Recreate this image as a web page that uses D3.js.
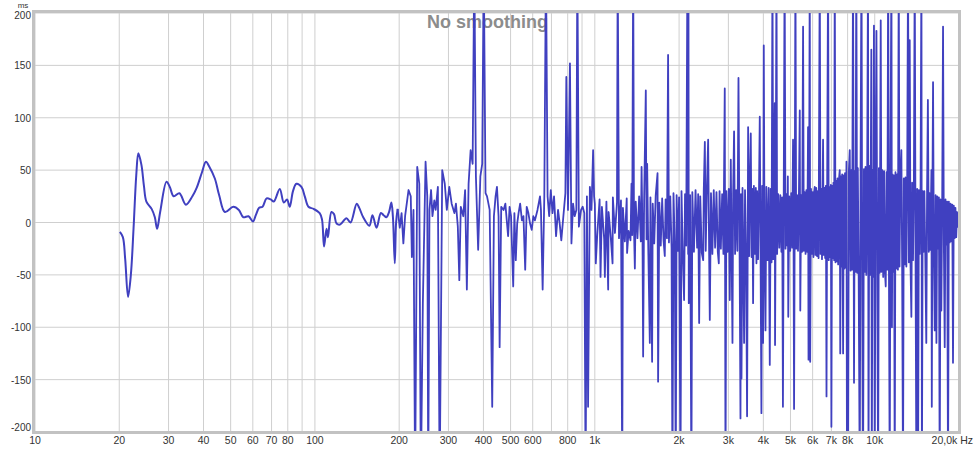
<!DOCTYPE html>
<html>
<head>
<meta charset="utf-8">
<script src="https://cdn.jsdelivr.net/npm/d3@7"></script>
<style>
  body { margin: 0; background: #fff; }
  svg { display: block; font-family: "Liberation Sans", Arial, sans-serif; }
</style>
</head>
<body>
<svg id="chart"></svg>
<script>
// group delay, ms as [Hz, ms]; +/-250 = beyond the frame
const lowBand = [
  [20.1,-9],[20.6,-14],[21.0,-35],[21.5,-71],[22.0,-50],[22.5,-5],[23.0,45],[23.4,66],[24.0,55],[24.5,35],
  [25.0,20],[26.1,13],[26.8,5],[27.3,-6],[28.0,10],[29.5,39],[30.3,34],[31.3,25],[32.8,28],[34.6,17],
  [36.5,25],[37.8,33],[39.5,48],[40.8,58],[42.0,53],[43.9,42],[45.5,26],[47.7,10],[51.1,15],[53.5,12],
  [55.5,5],[57.9,6],[60.1,1],[61.5,7],[63.2,14],[65.0,15],[67.2,23],[69.5,22],[71.3,20],[74.9,32],
  [77.4,19],[79.5,22],[81.3,15],[83.5,30],[85.9,37],[89.5,34],[92.0,25],[94.8,15],[98.9,13],[104,9],
  [106,3],[107.8,-23],[110,-6],[111.3,-14],[114.6,10],[117,8],[119.5,-1],[123,-2],[129.6,4],[134,0],
  [141,18],[144,14],[148.8,5],[156.5,-3],[160.6,7],[166,-5],[172.1,9],[176,7],[180,5],[184,10],
  [187.6,19],[190,5],[192.9,-39],[195,0],[197.5,13]
];

const midBand = [
  [201,-5],[204,9],[207,-20],[210,6],[216,31],[220,25],[222,-33],[225,12],[228,-250],[232,53],
  [236,37],[239,-250],[243,-77],[248.5,58],[252,25],[254,-250],[256.6,12],[260,31],[263,6],[267,21],
  [270,12],[275,34],[279,-250],[285,50],[291,37],[296,12],[302,34],[308,18],[315,9],[319,18],
  [324,-4],[328,-55],[332,15],[339,6],[344,31],[349,-64],[354,37],[360,69],[366,56],[371,250],
  [376,44],[383,-26],[390,44],[396,56],[401,250],[407,28],[412,25],[421,12],[430,-176],[436,6],
  [442,25],[447,34],[453,6],[457,-119],[463,15],[472,12],[479,18],[490,-13],[496,15],[502,6],
  [511,-61],[516,9],[522,-36],[528,-1],[534,9],[541,18],[549,2],[556,6],[564,-45],[571,15],
  [579,9],[587,-1],[595,-7],[603,6],[611,2],[624,12],[637,25],[642,12],[651,-64],[660,25],
  [669,250],[678,25],[687,6],[696,31],[706,9],[715,25],[727,-13],[739,12],[749,-1],[759,-17],
  [772,6],[785,28],[791,139],[802,12],[815,152],[825,-20],[836,18],[847,6],[859,12],[866,250],
  [877,-4],[893,12],[905,15],[917,9],[927,-250],[937,25],[946,-176],[960,34],[973,12],[986,69],
  [994,25]
];

const highBand = [
  [1000,18],[1008,-39],[1020,-12],[1040,22],[1048,-52],[1060,15],[1080,-16],[1086,-52],[1100,20],[1116,-64],
  [1120,10],[1140,-14],[1157,-39],[1160,24],[1180,-10],[1200,19],[1207,250],[1220,-15],[1240,21],[1253,-250],
  [1260,14],[1280,-18],[1300,23],[1304,-29],[1320,-8],[1341,-17],[1352,37],[1360,-12],[1371,250],[1380,-6],
  [1390,-44],[1400,20],[1420,-15],[1440,25],[1460,-18],[1469,53],[1480,-10],[1488,-128],[1500,21],[1521,126],
  [1530,-16],[1538,56],[1550,-14],[1572,-115],[1580,24],[1602,-133],[1610,18],[1630,-20],[1650,26],[1675,47],
  [1683,-152],[1700,19],[1720,-22],[1740,23],[1760,-17],[1778,-32],[1790,22],[1810,-15],[1827,160],[1840,-19],
  [1860,25],[1880,-24],[1894,-250],[1910,28],[1930,-21],[1946,-250],[1960,26],[1980,-27],
  [2000,24],[2023,-250],[2040,30],[2060,-26],[2084,-74],[2100,27],[2120,-22],[2142,250],[2155,-30],[2160,250],
  [2166,-77],[2190,26],[2213,-250],[2230,29],[2260,-28],[2290,31],[2320,-24],[2340,27],[2359,-96],[2380,25],
  [2410,-29],[2439,-36],[2450,30],[2472,77],[2490,-27],[2510,24],[2540,79],[2560,-26],[2575,-93],[2600,28],
  [2630,-30],[2660,31],[2690,-24],[2720,29],[2750,-28],[2773,-39],[2790,30],[2820,-25],[2850,27],[2880,-30],
  [2912,128],[2930,-250],[2950,30],[2980,-28],[3010,32],[3034,-74],[3060,60],[3080,-26],[3103,-115],[3120,28],
  [3144,87],[3170,-30],[3200,31],[3230,-27],[3260,138],[3290,-29],[3314,-187],[3328,27],[3342,-149],[3370,33],
  [3390,-30],[3414,-115],[3440,31],[3470,-31],[3499,-185],[3529,91],[3560,-32],[3580,30],[3607,85],[3630,-33],
  [3655,32],[3676,-77],[3700,35],[3730,-30],[3760,33],[3779,-39],[3800,30],[3830,-35],[3860,32],[3884,101],
  [3910,-34],[3937,-182],[3960,35],[3991,-115],
  [4014,169],[4040,-30],[4071,-103],[4100,34],[4140,-36],[4180,33],[4217,-136],[4250,32],[4280,-38],[4311,250],
  [4340,-35],[4370,36],[4394,114],[4404,-117],[4430,30],[4456,250],[4480,-30],[4520,27],[4560,-24],[4600,26],
  [4640,-28],[4670,24],[4699,-176],[4730,26],[4765,250],[4800,-25],[4840,27],[4870,-22],[4893,44],[4910,-90],
  [4950,25],[4990,-27],[5030,28],[5070,-24],[5107,79],[5130,-26],[5150,-178],[5180,27],[5208,250],[5240,-25],
  [5280,26],[5320,-27],[5360,28],[5397,107],[5420,-84],[5460,26],[5500,-28],[5546,187],[5580,-27],[5620,29],
  [5660,-30],[5700,31],[5740,-28],[5778,91],[5800,-131],[5830,30],[5859,250],[5880,-133],[5920,32],[5960,-30],
  [6000,29],[6040,-33],[6080,30],[6105,34],[6140,-31],[6180,33],[6220,-32],[6260,30],[6300,-34],[6362,250],
  [6400,-30],[6440,32],[6480,-35],[6537,79],[6570,-31],[6610,33],[6650,-34],[6690,35],[6725,-166],[6760,32],
  [6813,250],[6850,-36],[6890,34],[6930,-33],[6970,36],[7001,-195],[7040,35],[7080,-34],[7120,38],[7160,-36],
  [7197,250],[7240,-38],[7280,40],[7320,-37],[7360,42],[7400,-40],[7440,39],[7499,50],[7530,-125],[7570,44],
  [7610,-42],[7650,46],[7709,-125],[7750,45],[7790,-44],[7830,47],[7870,-43],[7925,58],[7960,-250],
  [8030,-250],[8080,48],[8142,69],[8200,-46],[8250,50],[8300,-45],[8364,250],[8433,-153],[8480,49],[8530,-47],
  [8594,250],[8650,-48],[8700,52],[8760,-46],[8840,-250],[8900,50],[8965,250],[9020,-49],[9085,-250],[9150,51],
  [9210,-47],[9270,53],[9330,-50],[9400,52],[9463,250],[9500,-250],[9560,54],[9620,-50],[9680,55],[9725,165],
  [9760,-250],[9820,50],[9880,-52],[9936,188],[10000,-250],[10070,55],[10141,183],[10210,-50],[10283,-250],[10350,52],
  [10420,-48],[10505,193],[10570,-47],[10640,50],[10720,-52],[10800,49],[10870,-46],[10947,-61],[11020,48],[11090,-45],
  [11166,250],[11240,-48],[11313,-250],[11380,47],[11472,250],[11520,-100],[11580,46],[11650,-47],[11720,45],[11787,-250],
  [11860,48],[11940,-44],[12020,46],[12100,-45],[12183,250],[12260,-42],[12350,44],[12449,69],[12530,-43],[12620,-250],
  [12700,42],[12790,-40],[12880,43],[12970,-42],[13060,40],[13152,250],[13240,-38],[13335,174],[13420,-39],[13517,-90],
  [13600,38],[13700,-36],[13800,37],[13896,250],[13990,-34],[14087,-250],[14180,32],[14280,-250],[14380,31],[14480,-30],
  [14580,33],[14684,250],[14740,-250],[14840,30],[14940,-28],[15040,30],[15150,-27],[15283,-115],[15380,29],[15484,117],
  [15600,-28],[15700,28],[15800,-26],[15941,50],[15990,-176],[16070,27],
  [16155,134],[16260,-26],[16380,-103],[16500,26],[16610,-115],[16720,25],[16850,-25],[16950,24],[17066,-250],[17180,22],
  [17293,-84],[17420,24],[17539,187],[17660,-22],[17783,-119],[17900,22],[18020,-21],[18140,20],[18275,-250],[18400,20],
  [18530,-19],[18660,18],[18800,-18],[18920,17],[19037,-134],[19160,16],[19300,-15],[19420,14],[19550,-14],[19680,10],
  [19791,-5]
];

const xGrid = [10,20,30,40,50,60,70,80,90,100,200,300,400,500,600,700,800,900,
  1000,2000,3000,4000,5000,6000,7000,8000,9000,10000,20000];
const xTickValues = [10,20,30,40,50,60,70,80,100,200,300,400,500,600,800,1000,
  2000,3000,4000,5000,6000,7000,8000,10000];
const xTickLabels = ["10","20","30","40","50","60","70","80","100","200","300","400","500","600","800","1k",
  "2k","3k","4k","5k","6k","7k","8k","10k"];
const yTicks = [-200,-150,-100,-50,0,50,100,150,200];
const title = "No smoothing";

const width = 975, height = 450;
const margin = { top: 13, right: 16, bottom: 18, left: 35 };

const svg = d3.select("#chart")
  .attr("width", width)
  .attr("height", height)
  .attr("viewBox", `0 0 ${width} ${height}`);

const x = d3.scaleLog()
  .domain([10, 20000])
  .range([margin.left, width - margin.right]);

const y = d3.scaleLinear()
  .domain([-200, 200])
  .range([height - margin.bottom, margin.top]);

svg.append("defs").append("clipPath").attr("id", "plot")
  .append("rect")
  .attr("x", x(10)).attr("y", y(200))
  .attr("width", x(20000) - x(10)).attr("height", y(-200) - y(200));

// grid
svg.append("g")
  .selectAll("line")
  .data(xGrid)
  .join("line")
  .attr("x1", d => x(d)).attr("x2", d => x(d))
  .attr("y1", y(200)).attr("y2", y(-200))
  .attr("stroke", "#cfcfcf").attr("stroke-width", 1);

svg.append("g")
  .selectAll("line")
  .data(yTicks)
  .join("line")
  .attr("x1", x(10)).attr("x2", x(20000))
  .attr("y1", d => y(d)).attr("y2", d => y(d))
  .attr("stroke", "#cfcfcf").attr("stroke-width", 1);

svg.append("text")
  .attr("x", width / 2)
  .attr("y", 28)
  .attr("text-anchor", "middle")
  .attr("font-size", 18)
  .attr("font-weight", "bold")
  .attr("fill", "#8c8c8c")
  .text(title);

// curve
const g = svg.append("g").attr("clip-path", "url(#plot)");

const smooth = d3.line()
  .x(d => x(d[0])).y(d => y(d[1]))
  .curve(d3.curveCatmullRom);

const sharp = d3.line()
  .x(d => x(d[0])).y(d => y(d[1]));

g.append("path")
  .datum(lowBand)
  .attr("d", smooth)
  .attr("fill", "none")
  .attr("stroke", "#4040c0")
  .attr("stroke-width", 2);

g.append("path")
  .datum([lowBand[lowBand.length - 1], ...midBand, ...highBand])
  .attr("d", sharp)
  .attr("fill", "none")
  .attr("stroke", "#4040c0")
  .attr("stroke-width", 1.8)
  .attr("stroke-linejoin", "round");

// frame
svg.append("rect")
  .attr("x", x(10) - 1.5).attr("y", y(200) - 1.5)
  .attr("width", x(20000) - x(10) + 2).attr("height", y(-200) - y(200) + 2)
  .attr("fill", "none")
  .attr("stroke", "#c2c2c2")
  .attr("stroke-width", 3);

// axes labels
svg.append("g")
  .selectAll("text")
  .data(yTicks)
  .join("text")
  .attr("x", 31)
  .attr("y", d => Math.min(Math.max(y(d) + 4, 19), 431))
  .attr("text-anchor", "end")
  .attr("font-size", 10)
  .attr("fill", "#333")
  .text(d => d);

svg.append("text")
  .attr("x", 23).attr("y", 8)
  .attr("text-anchor", "middle")
  .attr("font-size", 8)
  .attr("fill", "#333")
  .text("ms");

svg.append("g")
  .selectAll("text")
  .data(xTickValues)
  .join("text")
  .attr("x", d => x(d))
  .attr("y", 444)
  .attr("text-anchor", "middle")
  .attr("font-size", 10.5)
  .attr("fill", "#333")
  .text((d, i) => xTickLabels[i]);

svg.append("text")
  .attr("x", 973).attr("y", 444)
  .attr("text-anchor", "end")
  .attr("font-size", 10.5)
  .attr("fill", "#333")
  .text("20,0k Hz");
</script>
</body>
</html>
